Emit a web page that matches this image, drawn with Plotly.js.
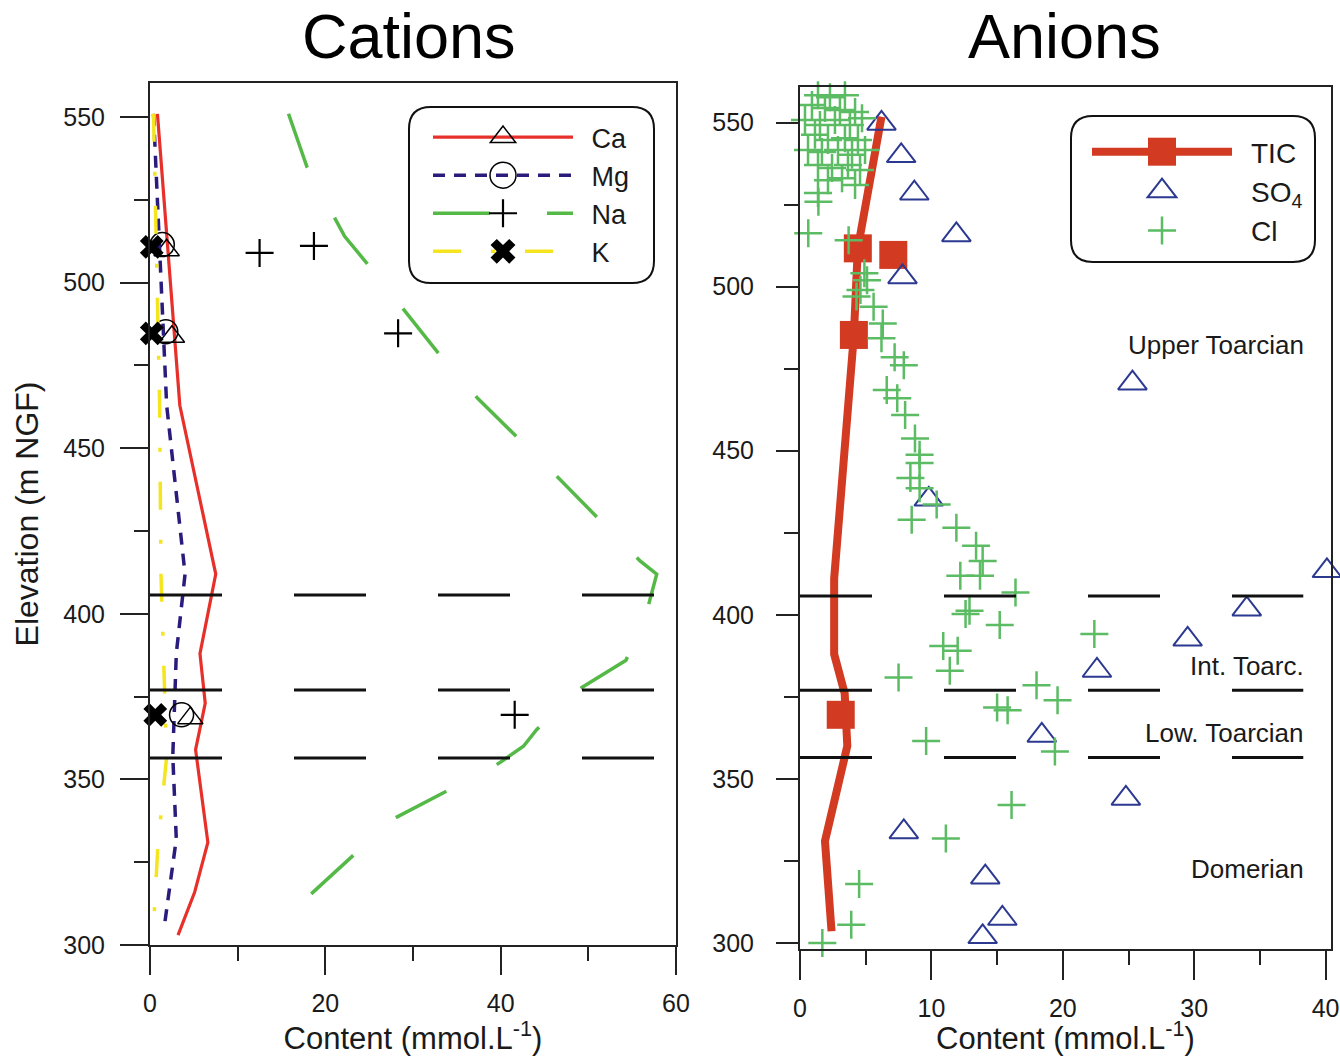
<!DOCTYPE html>
<html>
<head>
<meta charset="utf-8">
<script src="https://cdn.plot.ly/plotly-3.0.1.min.js"></script>
<style>html,body{margin:0;padding:0;background:#fff;}#chart{width:1340px;height:1056px;}</style>
</head>
<body>
<div id="chart"></div>
<script>
// ---------------- DATA ----------------
// Cations panel: modelled profiles (elevation m NGF, content mmol/L)
const caProfileElev = [551, 463, 412, 388, 373, 359, 331, 316, 303];
const caProfileVal  = [0.85, 3.4, 7.5, 5.7, 6.3, 5.2, 6.6, 5.1, 3.2];
const mgProfileElev = [551, 463, 412, 388, 357, 332, 305];
const mgProfileVal  = [0.4, 1.9, 4.0, 3.0, 2.6, 3.0, 1.6];
const naProfileElev = [551, 535, 514, 506, 492, 478, 465, 441, 416, 412, 402, 386, 377, 365, 360, 354, 338, 315];
const naProfileVal  = [15.8, 17.9, 22.2, 24.7, 28.9, 33.1, 37.4, 46.6, 55.9, 57.8, 56.8, 54.3, 48.8, 44.1, 42.6, 39.3, 27.7, 18.2];
const kProfileElev  = [551, 463, 412, 385, 357, 330, 303];
const kProfileVal   = [0.4, 1.1, 1.25, 1.6, 1.9, 0.9, 0.35];

// Cations panel: measured samples
const caSampleElev = [509.8, 483.7, 368.5];
const caSampleVal  = [1.9, 2.5, 4.6];
const mgSampleElev = [511.5, 485.2, 369.5];
const mgSampleVal  = [1.4, 1.8, 3.6];
const naSampleElev = [509.0, 511.1, 484.7, 369.5];
const naSampleVal  = [12.5, 18.7, 28.3, 41.6];
const kSampleElev  = [510.8, 484.7, 369.5];
const kSampleVal   = [0.2, 0.2, 0.6];

// Anions panel: TIC profile and samples
const ticProfileElev = [551.8, 511.7, 485.3, 411, 388, 376, 360, 331, 303.5];
const ticProfileVal  = [6.2, 4.4, 4.1, 2.6, 2.6, 3.4, 3.6, 1.9, 2.4];
const ticSampleElev  = [511.7, 509.7, 485.3, 369.5];
const ticSampleVal   = [4.4, 7.1, 4.1, 3.1];

// SO4 samples
const so4Elev = [561.5, 549.8, 539.9, 528.5, 515.8, 503.0, 470.6, 435.2, 413.4, 401.7, 392.5, 383.0, 363.2, 344.0, 333.8, 320.0, 307.4, 301.8];
const so4Val  = [2.9, 6.2, 7.7, 8.7, 11.9, 7.8, 25.3, 9.8, 40.1, 34.0, 29.5, 22.6, 18.4, 24.8, 7.9, 14.1, 15.4, 13.9];

// Cl samples
const clElev = [558.4, 557.8, 558.4, 555.4, 554.5, 553.9, 553.3, 550.8, 549.3, 550.8, 549.3, 551.4,
  546.3, 544.7, 545.3, 544.7, 541.7, 541.1, 541.7, 540.2, 541.7, 537.1, 536.2, 537.1, 535.6,
  532.5, 533.1, 531.0, 528.6, 525.9, 516.3, 514.2, 504.1, 502.0, 499.0, 497.0, 493.9, 488.8, 484.3,
  478.5, 476.1, 468.5, 466.0, 460.9, 453.7, 448.8, 446.3, 441.7, 438.6, 433.6, 429.0, 426.5,
  421.0, 416.4, 411.9, 411.9, 406.8, 401.2, 400.2, 396.9, 394.1, 390.5, 389.0, 380.9, 382.9,
  378.5, 373.9, 371.7, 370.9, 361.5, 358.3, 342.0, 331.8, 317.9, 305.5, 299.9];
const clVal = [1.37, 2.28, 3.42, 0.91, 1.9, 3.04, 4.19, 0.38, 1.52, 2.66, 3.8, 4.72,
  1.14, 2.13, 3.42, 4.41, 0.61, 1.67, 2.89, 3.96, 4.95, 1.37, 2.44, 3.65, 4.57,
  2.13, 3.2, 4.19, 1.37, 1.4, 0.63, 3.7, 4.9, 5.1, 4.6, 4.3, 5.6, 6.3, 6.2,
  7.2, 7.9, 6.6, 7.4, 8.0, 8.75, 9.1, 9.1, 8.4, 9.1, 10.4, 8.5, 11.9,
  13.4, 13.9, 12.2, 13.7, 16.4, 12.9, 12.6, 15.2, 22.4, 10.9, 12.0, 7.5, 11.4,
  18.0, 19.6, 15.0, 15.8, 9.6, 19.4, 16.1, 11.1, 4.5, 3.9, 1.7];

// Stratigraphic boundaries (elevation m NGF)
const boundaries = [405.7, 377.0, 356.5];
const stratLabels = ['Upper Toarcian', 'Int. Toarc.', 'Low. Toarcian', 'Domerian'];
const stratLabelElev = [482.2, 384.3, 363.9, 322.5];

// ---------------- STYLE ----------------
const W = 1340, H = 1056;
const FONT = 'Liberation Sans, Arial, Helvetica, sans-serif';
const px = v => v / W;
const py = v => 1 - v / H;
const SP = '\u2002';   // small gap between legend symbol and label
const norm = s => String(s || '').replace(/<[^>]+>/g, '').replace(/[\s\u2002]/g, '');

// profile line + sample markers in one trace (legend shows line with marker)
function combo(sVal, sElev, pVal, pElev, mColor) {
  const x = [], y = [], c = [];
  for (let i = 0; i < sVal.length; i++) {
    x.push(sVal[i], null); y.push(sElev[i], null); c.push(mColor, mColor);
  }
  for (let i = 0; i < pVal.length; i++) {
    x.push(pVal[i]); y.push(pElev[i]); c.push('rgba(0,0,0,0)');
  }
  return {x, y, c};
}

const traces = [];
const legendScale = {};
function addCombo(name, sVal, sElev, pVal, pElev, lineColor, lineWidth, dash, symbol, msize, mlw, xa, ya, legend, mColor, lgSize) {
  const d = combo(sVal, sElev, pVal, pElev, mColor);
  traces.push({
    type: 'scatter', mode: 'lines+markers', name: SP + name,
    x: d.x, y: d.y, xaxis: xa, yaxis: ya, legend: legend,
    connectgaps: false, cliponaxis: false,
    line: {color: lineColor, width: lineWidth, dash: dash},
    marker: {symbol: symbol, size: msize, color: d.c, line: {width: mlw, color: d.c}}
  });
  legendScale[name] = lgSize / 16;
}

addCombo('Ca', caSampleVal, caSampleElev, caProfileVal, caProfileElev, '#e8302a', 3.2, 'solid', 'triangle-up-open', 22, 1.5, 'x', 'y', 'legend', '#000', 22);
addCombo('Mg', mgSampleVal, mgSampleElev, mgProfileVal, mgProfileElev, '#2a1c7c', 3.5, '12px,9px', 'circle-open', 24, 1.5, 'x', 'y', 'legend', '#000', 26);
addCombo('Na', naSampleVal, naSampleElev, naProfileVal, naProfileElev, '#55b947', 3.5, '57px,57px', 'cross-thin-open', 20, 2.2, 'x', 'y', 'legend', '#000', 20);
addCombo('K', kSampleVal, kSampleElev, kProfileVal, kProfileElev, '#f4e51e', 3.5, '28px,30px,4px,30px', 'x', 21, 0, 'x', 'y', 'legend', '#000', 22);
addCombo('TIC', ticSampleVal, ticSampleElev, ticProfileVal, ticProfileElev, '#d23a22', 8, 'solid', 'square', 28, 0, 'x2', 'y2', 'legend2', '#d23a22', 28);

traces.push({
  type: 'scatter', mode: 'markers', name: SP + 'SO<sub>4</sub>',
  x: so4Val, y: so4Elev, xaxis: 'x2', yaxis: 'y2', legend: 'legend2', cliponaxis: false,
  marker: {symbol: 'triangle-up-open', size: 25, color: '#2b3990', line: {width: 2, color: '#2b3990'}}
});
legendScale['SO4'] = 25 / 16;
traces.push({
  type: 'scatter', mode: 'markers', name: SP + 'Cl',
  x: clVal, y: clElev, xaxis: 'x2', yaxis: 'y2', legend: 'legend2', cliponaxis: false,
  marker: {symbol: 'cross-thin-open', size: 20, color: '#5cbc64', line: {width: 2.5, color: '#5cbc64'}}
});
legendScale['Cl'] = 20 / 16;

// ---------------- LAYOUT ----------------
const tickFont = {family: FONT, size: 25, color: '#1a1a1a'};
const titleFont = {family: FONT, size: 31, color: '#1a1a1a'};

function axisBase(extra) {
  return Object.assign({
    showline: true, linecolor: '#222', linewidth: 2, mirror: true,
    showgrid: false, zeroline: false,
    ticks: 'outside', tickcolor: '#222', tickwidth: 2,
    tickfont: tickFont, fixedrange: true
  }, extra);
}

const shapes = [];
boundaries.forEach(b => {
  shapes.push({type: 'line', xref: 'x', yref: 'y', x0: 0, x1: 57.5, y0: b, y1: b,
    line: {color: '#111', width: 3, dash: '72px,72px'}});
  shapes.push({type: 'line', xref: 'x2', yref: 'y2', x0: 0, x1: 38.3, y0: b, y1: b,
    line: {color: '#111', width: 3, dash: '72px,72px'}});
});
function rrect(x0, y0, x1, y1, r) {
  const P = (a, b) => px(a).toFixed(5) + ',' + py(b).toFixed(5);
  return 'M' + P(x0 + r, y0) + ' L' + P(x1 - r, y0) + ' Q' + P(x1, y0) + ' ' + P(x1, y0 + r) +
    ' L' + P(x1, y1 - r) + ' Q' + P(x1, y1) + ' ' + P(x1 - r, y1) +
    ' L' + P(x0 + r, y1) + ' Q' + P(x0, y1) + ' ' + P(x0, y1 - r) +
    ' L' + P(x0, y0 + r) + ' Q' + P(x0, y0) + ' ' + P(x0 + r, y0) + ' Z';
}
shapes.push({type: 'path', xref: 'paper', yref: 'paper', path: rrect(409, 107, 654, 283, 22),
  line: {color: '#111', width: 2}, fillcolor: 'rgba(0,0,0,0)', layer: 'below'});
shapes.push({type: 'path', xref: 'paper', yref: 'paper', path: rrect(1071, 116, 1315, 262, 22),
  line: {color: '#111', width: 2}, fillcolor: 'rgba(0,0,0,0)', layer: 'below'});

const annotations = [
  {text: 'Cations', xref: 'paper', yref: 'paper', x: px(409), y: py(0), showarrow: false,
    font: {family: FONT, size: 63, color: '#000'}, xanchor: 'center', yanchor: 'top', borderpad: 0},
  {text: 'Anions', xref: 'paper', yref: 'paper', x: px(1064), y: py(0), showarrow: false,
    font: {family: FONT, size: 63, color: '#000'}, xanchor: 'center', yanchor: 'top', borderpad: 0}
];
stratLabels.forEach((t, i) => {
  annotations.push({text: t, xref: 'x2', yref: 'y2', x: 38.5, y: stratLabelElev[i], showarrow: false,
    xanchor: 'right', yanchor: 'middle', font: {family: FONT, size: 26, color: '#1a1a1a'}});
});

const layout = {
  width: W, height: H,
  margin: {l: 0, r: 0, t: 0, b: 0, pad: 0},
  paper_bgcolor: '#fff', plot_bgcolor: '#fff',
  font: {family: FONT, color: '#1a1a1a'},
  showlegend: true,
  xaxis: axisBase({domain: [px(150), px(676)], range: [0, 60], anchor: 'y',
    tickvals: [0, 20, 40, 60], ticklen: 28, ticklabelstandoff: 7,
    minor: {tickvals: [10, 30, 50], ticklen: 14, tickcolor: '#222', tickwidth: 2, ticks: 'outside'},
    title: {text: 'Content (mmol.L<sup>-1</sup>)', font: titleFont, standoff: 0}}),
  yaxis: axisBase({domain: [1 - 945 / H, 1 - 83 / H], range: [300, 560.3], anchor: 'x',
    tickvals: [300, 350, 400, 450, 500, 550], ticklen: 28, ticklabelstandoff: 10,
    minor: {tickvals: [325, 375, 425, 475, 525], ticklen: 14, tickcolor: '#222', tickwidth: 2, ticks: 'outside'},
    title: {text: 'Elevation (m NGF)', font: {family: FONT, size: 32, color: '#1a1a1a'}, standoff: 15}}),
  xaxis2: axisBase({domain: [px(800), px(1331)], range: [0, 40.41], anchor: 'y2',
    tickvals: [0, 10, 20, 30, 40], ticklen: 29, ticklabelstandoff: 7,
    minor: {tickvals: [5, 15, 25, 35], ticklen: 14, tickcolor: '#222', tickwidth: 2, ticks: 'outside'},
    title: {text: 'Content (mmol.L<sup>-1</sup>)', font: titleFont, standoff: 0}}),
  yaxis2: axisBase({domain: [1 - 949 / H, 1 - 87.3 / H], range: [298.1, 560.8], anchor: 'x2',
    tickvals: [300, 350, 400, 450, 500, 550], ticklen: 22, ticklabelstandoff: 17,
    minor: {tickvals: [325, 375, 425, 475, 525], ticklen: 14, tickcolor: '#222', tickwidth: 2, ticks: 'outside'}}),
  legend: {x: px(428), y: py(113), xanchor: 'left', yanchor: 'top', bgcolor: 'rgba(0,0,0,0)',
    borderwidth: 0, itemwidth: 140, font: {family: FONT, size: 27, color: '#1a1a1a'}, tracegroupgap: 0},
  legend2: {x: px(1087), y: py(127), xanchor: 'left', yanchor: 'top', bgcolor: 'rgba(0,0,0,0)',
    borderwidth: 0, itemwidth: 140, font: {family: FONT, size: 28, color: '#1a1a1a'}, tracegroupgap: 0},
  shapes: shapes,
  annotations: annotations
};

const gd = document.getElementById('chart');
// enlarge legend symbols to the size used in the figure (idempotent)
function itemName(g) {
  try {
    const d = g.__data__;
    if (d && d[0] && d[0].trace && d[0].trace.name) return norm(d[0].trace.name);
    if (d && d[0] && d[0][0] && d[0][0].trace) return norm(d[0][0].trace.name);
  } catch (e) {}
  const t = g.querySelector('text');
  return t ? norm(t.textContent) : '';
}
function scaleLegendSymbols() {
  gd.querySelectorAll('g.traces').forEach(g => {
    const s = legendScale[itemName(g)];
    if (!s) return;
    g.querySelectorAll('path.scatterpts, g.legendpoints path').forEach(p => {
      const tr = p.getAttribute('transform') || '';
      if (tr.indexOf('scale(') >= 0) return;
      p.setAttribute('transform', tr + ' scale(' + s.toFixed(3) + ')');
      p.style.vectorEffect = 'non-scaling-stroke';
    });
  });
}
Plotly.newPlot(gd, traces, layout, {displayModeBar: false, staticPlot: true}).then(() => {
  scaleLegendSymbols();
  setTimeout(scaleLegendSymbols, 30);
  setTimeout(scaleLegendSymbols, 200);
});
</script>
</body>
</html>
